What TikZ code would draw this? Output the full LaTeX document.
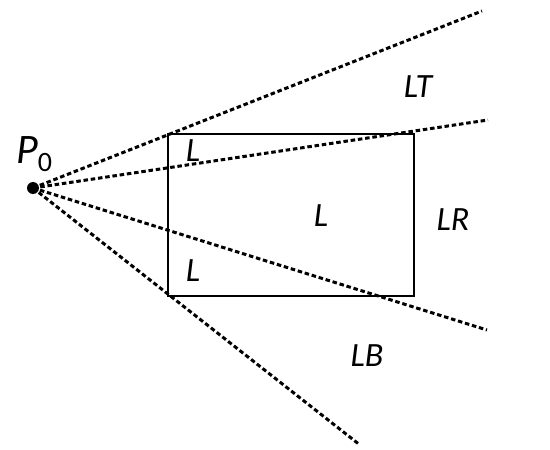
\documentclass[tikz,border=0pt]{standalone}
\usepackage{fontspec}
\setmainfont{Carlito}
\begin{document}
\begin{tikzpicture}[x=1pt,y=-1pt,
  ray/.style={line width=3pt, dash pattern=on 4.5pt off 2.8pt},
  box/.style={line width=2.8pt},
  lab/.style={font=\fontsize{34}{34}\selectfont\itshape, inner sep=0pt}]
\useasboundingbox (0,0) rectangle (550,450);
\coordinate (P) at (33,188);
\coordinate (tl) at (168,134);
\coordinate (tr) at (414,134);
\coordinate (br) at (414,296);
\coordinate (bl) at (168,296);
\coordinate (e1) at (482,11);
\coordinate (e2) at (488,120);
\coordinate (e3) at (487,330);
\coordinate (e4) at (360,445);
\draw[box] (tl) -- (tr) -- (br) -- (bl) -- cycle;
\draw[ray] (P) -- (e1);
\draw[ray] (P) -- (e2);
\draw[ray] (P) -- (e3);
\draw[ray] (P) -- (e4);
\fill (P) circle (6pt);
\node[inner sep=0pt, font=\fontsize{42}{42}\selectfont] (p0) at (34,154) {\textit{P}\raisebox{-8pt}{\fontsize{28}{28}\selectfont 0}};
\node[lab] (lt) at (418,87) {LT};
\node[lab] (lr) at (453,220) {LR};
\node[lab] (lc) at (321,216) {L};
\node[lab] (l1) at (193,151) {L};
\node[lab] (l2) at (193,271) {L};
\node[lab] (lb) at (367,356) {LB};
\end{tikzpicture}
\end{document}
